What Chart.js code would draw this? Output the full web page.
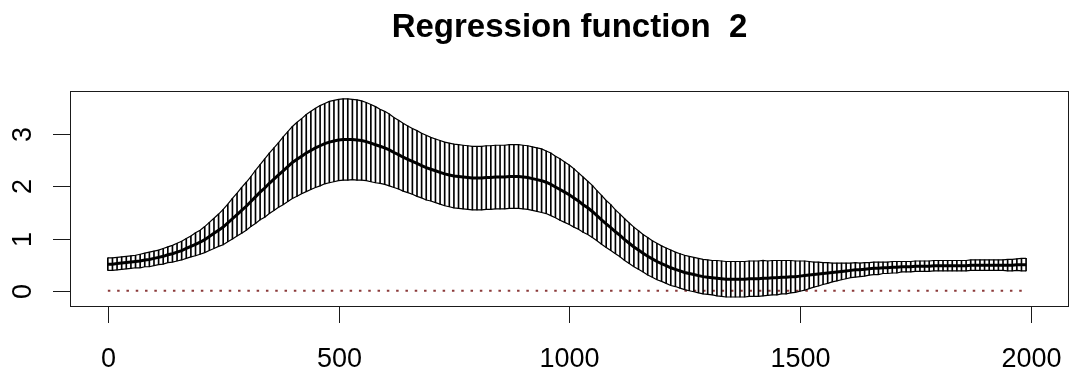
<!DOCTYPE html>
<html lang="en">
<head>
  <meta charset="UTF-8" />
  <title>Regression function 2</title>
  <script src="https://cdn.jsdelivr.net/npm/chart.js"></script>
  <style>
    body { margin: 0; background: #fff; }
    canvas { display: block; }
  </style>
</head>
<body>
  <canvas id="regChart" width="1071" height="374"></canvas>

  <script>
    // estimated fit, every 10 units from x = 0 to 1990
    const xStep = 10;
    const meanCurve = [
      0.51, 0.51, 0.52, 0.53, 0.54, 0.55, 0.56, 0.57, 0.59, 0.60,
      0.62, 0.64, 0.66, 0.69, 0.71, 0.74, 0.77, 0.81, 0.85, 0.89,
      0.93, 0.98, 1.04, 1.10, 1.16, 1.22, 1.30, 1.38, 1.46, 1.54,
      1.62, 1.71, 1.80, 1.89, 1.97, 2.06, 2.14, 2.22, 2.30, 2.38,
      2.46, 2.52, 2.58, 2.64, 2.69, 2.74, 2.78, 2.82, 2.85, 2.87,
      2.89, 2.90, 2.90, 2.90, 2.89, 2.88, 2.86, 2.83, 2.80, 2.77,
      2.74, 2.70, 2.65, 2.61, 2.56, 2.52, 2.48, 2.44, 2.40, 2.36,
      2.33, 2.30, 2.27, 2.24, 2.22, 2.20, 2.19, 2.18, 2.17, 2.16,
      2.16, 2.16, 2.17, 2.17, 2.18, 2.18, 2.18, 2.19, 2.19, 2.19,
      2.18, 2.17, 2.15, 2.13, 2.11, 2.08, 2.04, 1.99, 1.94, 1.89,
      1.84, 1.78, 1.72, 1.65, 1.59, 1.52, 1.44, 1.36, 1.28, 1.21,
      1.13, 1.06, 0.98, 0.91, 0.84, 0.78, 0.72, 0.66, 0.61, 0.56,
      0.52, 0.48, 0.44, 0.41, 0.38, 0.35, 0.33, 0.31, 0.29, 0.27,
      0.26, 0.25, 0.24, 0.23, 0.22, 0.22, 0.22, 0.22, 0.22, 0.23,
      0.23, 0.23, 0.24, 0.24, 0.25, 0.25, 0.26, 0.26, 0.27, 0.27,
      0.28, 0.29, 0.30, 0.31, 0.32, 0.33, 0.34, 0.35, 0.36, 0.37,
      0.38, 0.39, 0.40, 0.40, 0.41, 0.42, 0.43, 0.43, 0.44, 0.44,
      0.45, 0.45, 0.46, 0.46, 0.46, 0.47, 0.47, 0.47, 0.47, 0.48,
      0.48, 0.48, 0.48, 0.48, 0.48, 0.48, 0.48, 0.49, 0.49, 0.49,
      0.49, 0.49, 0.49, 0.49, 0.49, 0.49, 0.49, 0.50, 0.50, 0.50
    ];
    const lowerBand = [
      0.39, 0.39, 0.40, 0.41, 0.42, 0.43, 0.44, 0.44, 0.46, 0.46,
      0.48, 0.50, 0.51, 0.54, 0.55, 0.57, 0.59, 0.62, 0.65, 0.67,
      0.70, 0.73, 0.77, 0.81, 0.85, 0.88, 0.94, 0.99, 1.05, 1.10,
      1.16, 1.23, 1.29, 1.36, 1.41, 1.48, 1.54, 1.60, 1.65, 1.71,
      1.77, 1.81, 1.86, 1.90, 1.94, 1.98, 2.01, 2.05, 2.07, 2.09,
      2.11, 2.12, 2.12, 2.13, 2.12, 2.12, 2.11, 2.09, 2.07, 2.06,
      2.04, 2.01, 1.98, 1.95, 1.91, 1.88, 1.85, 1.81, 1.78, 1.74,
      1.72, 1.69, 1.66, 1.63, 1.61, 1.59, 1.58, 1.57, 1.56, 1.55,
      1.55, 1.55, 1.56, 1.56, 1.57, 1.57, 1.57, 1.58, 1.58, 1.58,
      1.57, 1.56, 1.54, 1.52, 1.50, 1.48, 1.44, 1.40, 1.35, 1.31,
      1.27, 1.22, 1.18, 1.12, 1.08, 1.02, 0.96, 0.89, 0.83, 0.77,
      0.71, 0.65, 0.58, 0.52, 0.46, 0.41, 0.36, 0.30, 0.26, 0.21,
      0.18, 0.14, 0.10, 0.08, 0.05, 0.02, 0.00, -0.02, -0.04, -0.06,
      -0.07, -0.08, -0.10, -0.11, -0.12, -0.12, -0.12, -0.12, -0.12, -0.11,
      -0.11, -0.11, -0.10, -0.09, -0.08, -0.08, -0.06, -0.06, -0.04, -0.03,
      -0.01, 0.01, 0.04, 0.07, 0.09, 0.12, 0.14, 0.17, 0.19, 0.21,
      0.23, 0.25, 0.26, 0.27, 0.28, 0.30, 0.31, 0.31, 0.33, 0.33,
      0.34, 0.34, 0.36, 0.36, 0.36, 0.37, 0.37, 0.37, 0.37, 0.38,
      0.38, 0.38, 0.38, 0.38, 0.38, 0.38, 0.38, 0.39, 0.39, 0.39,
      0.39, 0.39, 0.39, 0.39, 0.39, 0.38, 0.38, 0.39, 0.38, 0.38
    ];
    const upperBand = [
      0.63, 0.63, 0.64, 0.65, 0.66, 0.67, 0.68, 0.70, 0.72, 0.74,
      0.76, 0.78, 0.81, 0.84, 0.87, 0.91, 0.95, 1.00, 1.05, 1.11,
      1.16, 1.23, 1.31, 1.39, 1.47, 1.56, 1.66, 1.77, 1.87, 1.98,
      2.08, 2.19, 2.31, 2.42, 2.53, 2.64, 2.74, 2.84, 2.95, 3.05,
      3.15, 3.23, 3.30, 3.38, 3.44, 3.50, 3.55, 3.59, 3.63, 3.65,
      3.67, 3.68, 3.68, 3.67, 3.66, 3.64, 3.61, 3.57, 3.53, 3.48,
      3.44, 3.39, 3.32, 3.27, 3.21, 3.16, 3.11, 3.07, 3.02, 2.98,
      2.94, 2.91, 2.88, 2.85, 2.83, 2.81, 2.80, 2.79, 2.78, 2.77,
      2.77, 2.77, 2.78, 2.78, 2.79, 2.79, 2.79, 2.80, 2.80, 2.80,
      2.79, 2.78, 2.76, 2.74, 2.72, 2.68, 2.64, 2.58, 2.53, 2.47,
      2.41, 2.34, 2.26, 2.18, 2.10, 2.02, 1.92, 1.83, 1.73, 1.65,
      1.55, 1.47, 1.38, 1.30, 1.22, 1.15, 1.08, 1.02, 0.96, 0.91,
      0.86, 0.82, 0.78, 0.74, 0.71, 0.68, 0.66, 0.64, 0.62, 0.60,
      0.59, 0.58, 0.58, 0.57, 0.56, 0.56, 0.56, 0.56, 0.56, 0.57,
      0.57, 0.57, 0.58, 0.57, 0.58, 0.58, 0.58, 0.58, 0.58, 0.57,
      0.57, 0.57, 0.56, 0.55, 0.55, 0.54, 0.54, 0.53, 0.53, 0.53,
      0.53, 0.53, 0.54, 0.53, 0.54, 0.54, 0.55, 0.55, 0.55, 0.55,
      0.56, 0.56, 0.56, 0.56, 0.56, 0.57, 0.57, 0.57, 0.57, 0.58,
      0.58, 0.58, 0.58, 0.58, 0.58, 0.58, 0.58, 0.59, 0.59, 0.59,
      0.59, 0.59, 0.59, 0.59, 0.59, 0.60, 0.60, 0.61, 0.62, 0.62
    ];
    const zeroLine = [0, 0];
    const xTicks = [0, 500, 1000, 1500, 2000];
    const yTicks = [0, 1, 2, 3];

    const xs = meanCurve.map((_, i) => i * xStep);
    const xLast = xs[xs.length - 1];

    const FONT = '"Liberation Sans", Arial, Helvetica, sans-serif';

    // R-like box, ticks, rotated y labels and title
    const rFrame = {
      id: 'rFrame',
      afterDraw(chart) {
        const { ctx, chartArea: a, scales: { x, y } } = chart;
        ctx.save();
        ctx.strokeStyle = '#1a1a1a';
        ctx.fillStyle = '#000';
        ctx.lineWidth = 1;
        ctx.strokeRect(a.left + 0.5, a.top + 0.5, a.right - a.left - 1, a.bottom - a.top);

        ctx.font = '27px ' + FONT;
        ctx.textAlign = 'center';
        ctx.textBaseline = 'alphabetic';
        xTicks.forEach(v => {
          const px = Math.round(x.getPixelForValue(v)) + 0.5;
          ctx.beginPath();
          ctx.moveTo(px, a.bottom);
          ctx.lineTo(px, a.bottom + 17);
          ctx.stroke();
          ctx.fillText(String(v), px, 367);
        });
        yTicks.forEach(v => {
          const py = Math.round(y.getPixelForValue(v)) + 0.5;
          ctx.beginPath();
          ctx.moveTo(a.left - 17, py);
          ctx.lineTo(a.left, py);
          ctx.stroke();
          ctx.save();
          ctx.translate(31, py);
          ctx.rotate(-Math.PI / 2);
          ctx.fillText(String(v), 0, 0);
          ctx.restore();
        });

        ctx.font = 'bold 33px ' + FONT;
        ctx.fillText('Regression function  2', (a.left + a.right) / 2, 37);
        ctx.restore();
      }
    };

    new Chart(document.getElementById('regChart').getContext('2d'), {
      type: 'bar',
      data: {
        datasets: [
          {
            type: 'line',
            label: 'mean',
            data: xs.map((x, i) => ({ x, y: meanCurve[i] })),
            borderColor: '#000',
            borderWidth: 3,
            pointRadius: 0,
            order: 1
          },
          {
            type: 'line',
            label: 'upper',
            data: xs.map((x, i) => ({ x, y: upperBand[i] })),
            borderColor: '#000',
            borderWidth: 1.2,
            pointRadius: 0,
            order: 2
          },
          {
            type: 'line',
            label: 'lower',
            data: xs.map((x, i) => ({ x, y: lowerBand[i] })),
            borderColor: '#000',
            borderWidth: 1.2,
            pointRadius: 0,
            order: 2
          },
          {
            label: 'band',
            data: xs.map((x, i) => ({ x, y: [lowerBand[i], upperBand[i]] })),
            backgroundColor: '#000',
            barThickness: 1,
            grouped: false,
            order: 5
          },
          {
            type: 'line',
            label: 'zero',
            data: [{ x: 0, y: zeroLine[0] }, { x: xLast, y: zeroLine[1] }],
            borderColor: '#8b3a3a',
            borderWidth: 2,
            borderDash: [2.5, 6.8],
            pointRadius: 0,
            order: 6
          }
        ]
      },
      options: {
        responsive: false,
        animation: false,
        devicePixelRatio: 1,
        layout: { padding: { left: 70, top: 91, right: 2, bottom: 68 } },
        scales: {
          x: { type: 'linear', min: -82, max: 2083, offset: false, display: false },
          y: { type: 'linear', min: -0.293, max: 3.83, display: false }
        },
        plugins: {
          legend: { display: false },
          title: { display: false },
          tooltip: { enabled: false }
        }
      },
      plugins: [rFrame]
    });
  </script>
</body>
</html>
